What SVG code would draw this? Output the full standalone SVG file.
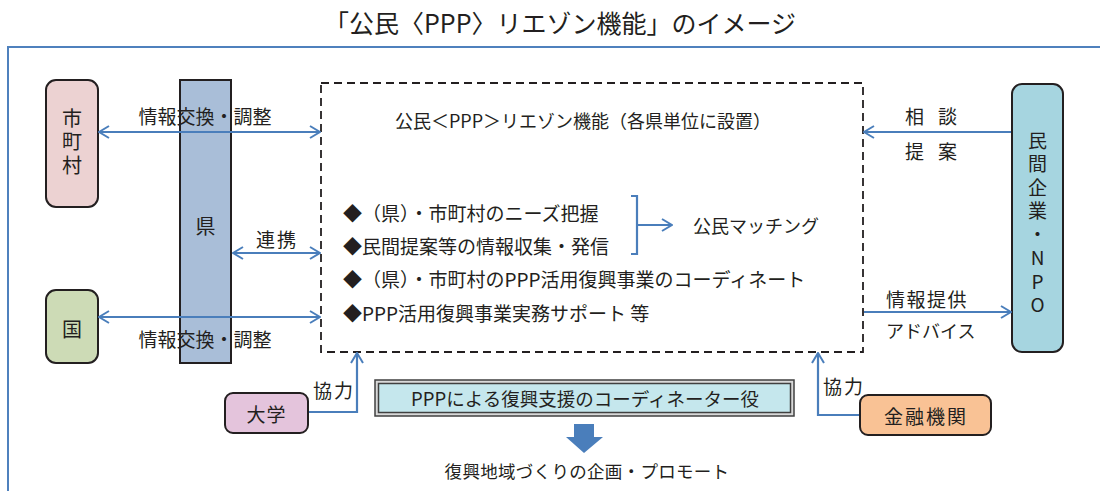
<svg xmlns="http://www.w3.org/2000/svg" width="1100" height="491" viewBox="0 0 1100 491">
<style>
text{font-family:"Noto Sans CJK JP","Noto Sans",sans-serif;fill:#231f20;dominant-baseline:central}
text.v{writing-mode:vertical-rl;text-orientation:upright;dominant-baseline:auto}
.box{stroke:#231f20;stroke-width:2}
.conn{fill:none;stroke:#4a7ebb;stroke-width:2.2}
.t19{font-size:19px}
.t18{font-size:18px}
</style>
<defs>
<marker id="ah" viewBox="0 0 12 14" refX="11" refY="7" markerWidth="12" markerHeight="14" markerUnits="userSpaceOnUse" orient="auto-start-reverse">
<path d="M1,1 L11,7 L1,13" fill="none" stroke="#4a7ebb" stroke-width="2"/>
</marker>
</defs>
<rect width="1100" height="491" fill="#ffffff"/>
<text x="560" y="22" font-size="25" text-anchor="middle">「公民〈PPP〉リエゾン機能」のイメージ</text>
<path d="M8,491 V47 H1100" fill="none" stroke="#4f81bd" stroke-width="2"/>

<g id="shichoson">
<rect class="box" x="46" y="80" width="52" height="127" rx="10" fill="#ecd2d2"/>
<text class="v" x="72" y="108" font-size="20" letter-spacing="3.5">市町村</text>
</g>
<g id="ken">
<rect class="box" x="180" y="80" width="51" height="283" fill="#a9bed8"/>
<text x="205.5" y="225" font-size="20" text-anchor="middle">県</text>
</g>
<g id="kuni">
<rect class="box" x="46" y="290" width="52" height="73" rx="10" fill="#cddbb6"/>
<text x="72" y="328" font-size="20" text-anchor="middle">国</text>
</g>
<g id="liaison">
<rect x="321" y="83" width="542" height="269" fill="none" stroke="#231f20" stroke-width="1.8" stroke-dasharray="8 5"/>
<text class="t18" x="583" y="120" text-anchor="middle">公民＜PPP＞リエゾン機能（各県単位に設置）</text>
<text class="t19" x="343" y="212">◆（県）・市町村のニーズ把握</text>
<text class="t19" x="343" y="245">◆民間提案等の情報収集・発信</text>
<text class="t19" x="343" y="278">◆（県）・市町村のPPP活用復興事業のコーディネート</text>
<text class="t19" x="343" y="312">◆PPP活用復興事業実務サポート 等</text>
<text class="t18" x="693" y="225">公民マッチング</text>
</g>
<g id="npo">
<rect class="box" x="1012" y="84" width="51" height="268" rx="10" fill="#a6d5e0"/>
<text class="v" x="1037.5" y="131" font-size="19" letter-spacing="4.5">民間企業・NPO</text>
</g>
<g id="daigaku">
<rect class="box" x="225" y="393" width="83" height="40" rx="8" fill="#e4c4dc"/>
<text x="266.5" y="413" font-size="19" text-anchor="middle" letter-spacing="1">大学</text>
</g>
<g id="kinyu">
<rect class="box" x="860" y="395" width="131" height="40" rx="8" fill="#f9c295"/>
<text x="926" y="415" font-size="19" text-anchor="middle" letter-spacing="2">金融機関</text>
</g>
<g id="coordinator">
<rect x="375" y="380" width="419" height="36" fill="#d9d9d9" stroke="#404040" stroke-width="1.5"/>
<rect x="378.5" y="383.5" width="412" height="29" fill="#c5e7ed" stroke="#404040" stroke-width="1.5"/>
<text x="585" y="398" font-size="18.5" text-anchor="middle">PPPによる復興支援のコーディネーター役</text>
</g>
<g id="result">
<path d="M574,424 H594 V437 H603 L584,453 L566,437 H574 Z" fill="#4a7ebb"/>
<text x="587" y="470" font-size="17.5" text-anchor="middle" letter-spacing="0.3">復興地域づくりの企画・プロモート</text>
</g>

<g id="connectors">
<line class="conn" x1="99" y1="132" x2="320" y2="132" marker-start="url(#ah)" marker-end="url(#ah)"/>
<line class="conn" x1="99" y1="317" x2="320" y2="317" marker-start="url(#ah)" marker-end="url(#ah)"/>
<line class="conn" x1="233" y1="253" x2="320" y2="253" marker-start="url(#ah)" marker-end="url(#ah)"/>
<line class="conn" x1="1011" y1="132" x2="864" y2="132" marker-end="url(#ah)"/>
<line class="conn" x1="864" y1="312" x2="1011" y2="312" marker-end="url(#ah)"/>
<polyline class="conn" points="309,412 357,412 357,353" marker-end="url(#ah)"/>
<polyline class="conn" points="859,415 818,415 818,353" marker-end="url(#ah)"/>
<path class="conn" d="M631,196 H637 V254 H631"/>
<line class="conn" x1="637" y1="225" x2="672" y2="225" marker-end="url(#ah)"/>
<text class="t19" x="205" y="115" text-anchor="middle">情報交換・調整</text>
<text class="t19" x="205" y="338" text-anchor="middle">情報交換・調整</text>
<text class="t19" x="277" y="238" text-anchor="middle" letter-spacing="2">連携</text>
<text class="t19" x="905 938" y="115">相談</text>
<text class="t19" x="905 938" y="150">提案</text>
<text class="t19" x="886" y="298" letter-spacing="1.5">情報提供</text>
<text class="t18" x="886" y="330">アドバイス</text>
<text class="t19" x="313" y="389" letter-spacing="2">協力</text>
<text class="t19" x="823" y="385" letter-spacing="2">協力</text>
</g>
</svg>
